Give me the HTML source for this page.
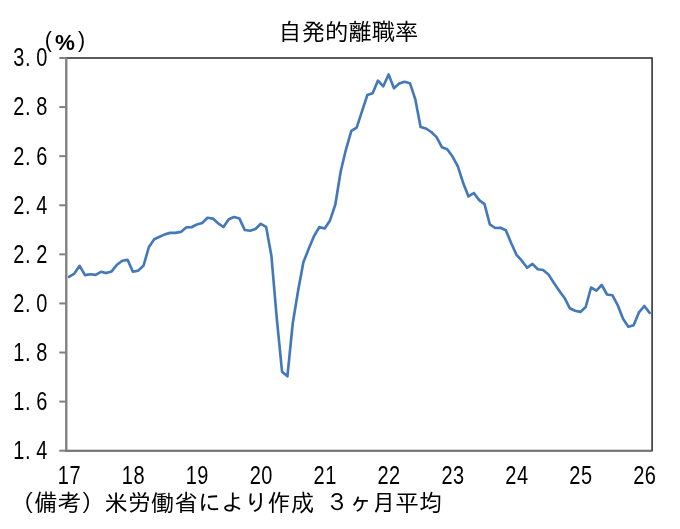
<!DOCTYPE html>
<html lang="ja"><head><meta charset="utf-8"><title>自発的離職率</title>
<style>
html,body{margin:0;padding:0;background:#fff;}
body{width:680px;height:529px;overflow:hidden;}
svg{display:block;will-change:transform;}
.jp{font-family:"Liberation Sans","IPAGothic",sans-serif;font-size:23.33px;fill:#000;}
.num{font-family:"Liberation Sans","IPAGothic",sans-serif;font-size:25.6px;fill:#000;text-anchor:middle;}
.par{font-family:"Liberation Sans","IPAGothic",sans-serif;font-size:21.4px;fill:#000;}
.pct{font-family:"Liberation Sans","IPAGothic",sans-serif;font-weight:bold;font-size:22.4px;fill:#000;}
</style></head><body>
<svg width="680" height="529" viewBox="0 0 680 529">
<rect x="0" y="0" width="680" height="529" fill="#fff"/>
<rect x="66.35" y="58.0" width="585.75" height="392.70" fill="none" stroke="#262626" stroke-width="1.5"/>
<g stroke="#808080" stroke-width="2.0" fill="none">
<line x1="66.35" y1="57.4" x2="66.35" y2="451.5"/>
<line x1="59.3" y1="58.00" x2="66.35" y2="58.00"/>
<line x1="59.3" y1="107.09" x2="66.35" y2="107.09"/>
<line x1="59.3" y1="156.18" x2="66.35" y2="156.18"/>
<line x1="59.3" y1="205.26" x2="66.35" y2="205.26"/>
<line x1="59.3" y1="254.35" x2="66.35" y2="254.35"/>
<line x1="59.3" y1="303.44" x2="66.35" y2="303.44"/>
<line x1="59.3" y1="352.52" x2="66.35" y2="352.52"/>
<line x1="59.3" y1="401.61" x2="66.35" y2="401.61"/>
<line x1="59.3" y1="450.70" x2="66.35" y2="450.70"/>
</g>
<line x1="65.35" y1="450.80" x2="651.50" y2="450.80" stroke="#767676" stroke-width="1.9"/>
<polyline points="69.00,276.8 74.33,273.6 79.65,265.8 84.98,275.1 90.31,274.3 95.63,274.9 100.96,271.8 106.29,273.1 111.62,271.4 116.94,264.7 122.27,260.8 127.60,259.9 132.92,271.7 138.25,270.6 143.58,265.5 148.91,247.0 154.23,239.2 159.56,236.7 164.89,234.4 170.21,232.9 175.54,232.9 180.87,231.9 186.19,227.4 191.52,227.2 196.85,224.5 202.18,223.0 207.50,217.8 212.83,218.6 218.16,223.3 223.48,227.0 228.81,219.3 234.14,217.0 239.46,218.6 244.79,230.0 250.12,230.7 255.44,229.0 260.77,223.8 266.10,226.8 271.43,256.0 276.75,318.2 282.08,371.8 287.41,376.3 292.73,323.5 298.06,291.0 303.39,262.3 308.72,248.7 314.04,236.1 319.37,227.0 324.70,228.5 330.02,220.4 335.35,204.5 340.68,171.5 346.00,149.3 351.33,130.9 356.66,127.6 361.99,111.3 367.31,95.1 372.64,93.2 377.97,80.6 383.29,86.3 388.62,74.5 393.95,88.2 399.27,83.6 404.60,81.8 409.93,83.2 415.25,99.1 420.58,127.0 425.91,128.5 431.24,132.0 436.56,137.1 441.89,147.2 447.22,149.2 452.54,156.6 457.87,166.4 463.20,183.1 468.52,196.4 473.85,193.0 479.18,200.1 484.51,204.1 489.83,224.4 495.16,228.0 500.49,227.7 505.81,230.2 511.14,243.0 516.47,254.8 521.80,260.7 527.12,267.8 532.45,263.9 537.78,269.3 543.10,270.0 548.43,274.4 553.76,282.8 559.08,290.6 564.41,297.7 569.74,308.2 575.07,310.7 580.39,311.9 585.72,307.0 591.05,287.5 596.37,290.6 601.70,285.0 607.03,294.5 612.35,295.2 617.68,305.1 623.01,318.8 628.34,326.7 633.66,325.2 638.99,312.3 644.32,306.0 649.64,312.9" fill="none" stroke="#4378ba" stroke-width="2.65" stroke-linejoin="round" stroke-linecap="round"/>
<text class="jp" x="348.4" y="40" text-anchor="middle">自発的離職率</text>
<g class="num">
<text transform="translate(0,66.3) scale(0.78,1)" x="24.10 35.77 53.72" y="0">3.0</text>
<text transform="translate(0,115.4) scale(0.78,1)" x="24.10 35.77 53.72" y="0">2.8</text>
<text transform="translate(0,164.5) scale(0.78,1)" x="24.10 35.77 53.72" y="0">2.6</text>
<text transform="translate(0,213.6) scale(0.78,1)" x="24.10 35.77 53.72" y="0">2.4</text>
<text transform="translate(0,262.6) scale(0.78,1)" x="24.10 35.77 53.72" y="0">2.2</text>
<text transform="translate(0,311.7) scale(0.78,1)" x="24.10 35.77 53.72" y="0">2.0</text>
<text transform="translate(0,360.8) scale(0.78,1)" x="24.10 35.77 53.72" y="0">1.8</text>
<text transform="translate(0,409.9) scale(0.78,1)" x="24.10 35.77 53.72" y="0">1.6</text>
<text transform="translate(0,459.0) scale(0.78,1)" x="24.10 35.77 53.72" y="0">1.4</text>
<text transform="translate(0,483.6) scale(0.78,1)" x="81.28 96.15" y="0">17</text>
<text transform="translate(0,483.6) scale(0.78,1)" x="163.24 178.12" y="0">18</text>
<text transform="translate(0,483.6) scale(0.78,1)" x="245.21 260.08" y="0">19</text>
<text transform="translate(0,483.6) scale(0.78,1)" x="327.17 342.04" y="0">20</text>
<text transform="translate(0,483.6) scale(0.78,1)" x="409.13 424.00" y="0">21</text>
<text transform="translate(0,483.6) scale(0.78,1)" x="491.09 505.96" y="0">22</text>
<text transform="translate(0,483.6) scale(0.78,1)" x="573.05 587.92" y="0">23</text>
<text transform="translate(0,483.6) scale(0.78,1)" x="655.01 669.88" y="0">24</text>
<text transform="translate(0,483.6) scale(0.78,1)" x="736.97 751.85" y="0">25</text>
<text transform="translate(0,483.6) scale(0.78,1)" x="818.94 833.81" y="0">26</text>
</g>
<text class="par" x="44.7" y="47.4">(<tspan class="pct" x="54.9" y="50.2">%</tspan><tspan x="77.9" y="47.4">)</tspan></text>
<text class="jp" x="11.0" y="511">（備考）米労働省により作成 <tspan x="325.45">３ヶ月平均</tspan></text>
</svg>
</body></html>
